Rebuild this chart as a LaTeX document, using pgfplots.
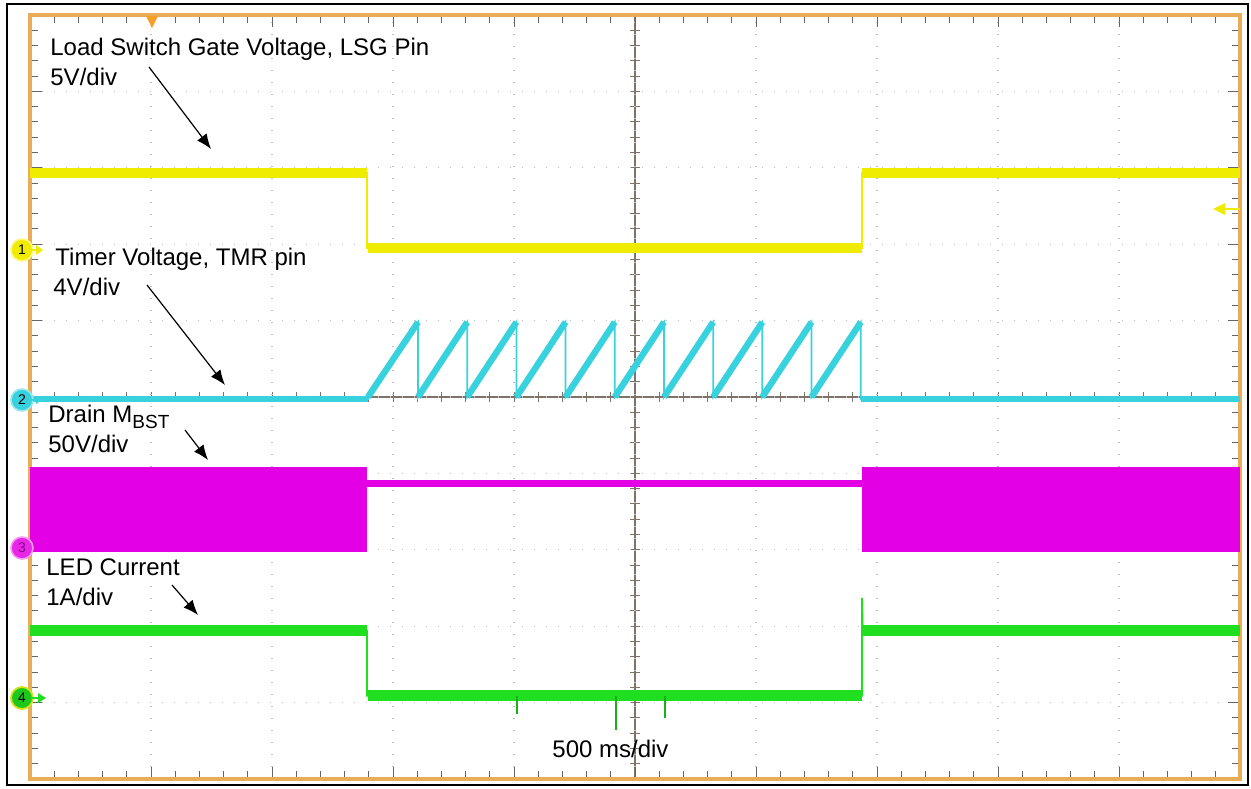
\documentclass[border=0pt]{standalone}
\usepackage{pgfplots}
\pgfplotsset{compat=1.18}
\usepackage{fontspec}
\setmainfont{Liberation Sans}
\usetikzlibrary{arrows.meta}
\definecolor{scopeorange}{RGB}{234,172,88}
\definecolor{trigorange}{RGB}{245,160,40}
\definecolor{chyellow}{RGB}{240,236,0}
\definecolor{chcyan}{RGB}{55,210,222}
\definecolor{chmag}{RGB}{228,0,228}
\definecolor{chgreen}{RGB}{32,222,32}
\definecolor{crossgray}{RGB}{125,115,105}
\begin{document}
\begin{tikzpicture}
\path[use as bounding box] (0,0) rectangle (625.5pt,-394pt);
% centre cross of the graticule (pixel coordinates of the screen)
\begin{scope}[x=0.5pt,y=-0.5pt]
  \draw[crossgray, line width=0.6pt] (30,397) -- (1240,397);
  \draw[crossgray, line width=0.6pt] (635,15) -- (635,779);
  \foreach \i in {1,...,49} \draw[crossgray, line width=0.5pt] (30+24.2*\i,392) -- (30+24.2*\i,402);
  \foreach \i in {1,...,49} \draw[crossgray, line width=0.5pt] (630,15+15.28*\i) -- (640,15+15.28*\i);
\end{scope}
\begin{axis}[
  at={(15pt,-389.5pt)}, anchor=south west,
  scale only axis, width=605pt, height=382pt,
  xmin=0, xmax=10, ymin=-5, ymax=5,
  xtick={0,...,10}, ytick={-5,...,5},
  minor x tick num=4, minor y tick num=4,
  xticklabels={}, yticklabels={},
  xtick pos=both, ytick pos=both,
  tick align=inside, major tick length=6pt, minor tick length=4pt,
  tick style={black!60, line width=0.5pt},
  axis line style={scopeorange, line width=2pt},
  grid=major,
  major grid style={black!25, line width=0.6pt, dash pattern=on 0.6pt off 5.4pt},
  unbounded coords=jump,
]
% ---- Channel 3 : drain of M_BST (switching band / idle level)
\addplot[draw=none, fill=chmag] coordinates {(0,-0.92) (2.785,-0.92) (2.785,-2.03) (0,-2.03)} -- cycle;
\addplot[draw=none, fill=chmag] coordinates {(6.876,-0.92) (10,-0.92) (10,-2.03) (6.876,-2.03)} -- cycle;
\addplot[chmag, line width=3.2pt] coordinates {(2.785,-1.13) (6.876,-1.13)};
% ---- Channel 1 : LSG gate voltage
\addplot[chyellow, line width=0.9pt] coordinates {(0,2.93) (2.785,2.93) (2.785,1.95) (6.876,1.95) (6.876,2.93) (10,2.93)};
\addplot[chyellow, line width=5.2pt] coordinates {(0,2.93) (2.785,2.93) (2.785,nan) (2.79,1.95) (6.872,1.95) (6.872,nan) (6.88,2.93) (10,2.93)};
% ---- Channel 2 : timer voltage (sawtooth)
\addplot[chcyan, line width=0.9pt] coordinates {(0,-0.03) (2.793,-0.03) (2.793,0) (3.207,0.98) (3.207,0) (3.613,0.98) (3.613,0) (4.020,0.98) (4.020,0) (4.426,0.98) (4.426,0) (4.833,0.98) (4.833,0) (5.240,0.98) (5.240,0) (5.646,0.98) (5.646,0) (6.052,0.98) (6.052,0) (6.459,0.98) (6.459,0) (6.866,0.98) (6.866,-0.03) (10,-0.03)};
\addplot[chcyan, line width=2.8pt] coordinates {(0,-0.03) (2.793,-0.03) (2.793,nan) (6.87,-0.03) (10,-0.03)};
\addplot[chcyan, line width=3.2pt] coordinates {(2.793,0) (3.207,0.98) (3.207,nan) (3.207,0) (3.613,0.98) (3.613,nan) (3.613,0) (4.020,0.98) (4.020,nan) (4.020,0) (4.426,0.98) (4.426,nan) (4.426,0) (4.833,0.98) (4.833,nan) (4.833,0) (5.240,0.98) (5.240,nan) (5.240,0) (5.646,0.98) (5.646,nan) (5.646,0) (6.052,0.98) (6.052,nan) (6.052,0) (6.459,0.98) (6.459,nan) (6.459,0) (6.866,0.98)};
% ---- Channel 4 : LED current
\addplot[chgreen, line width=0.9pt] coordinates {(0,-3.06) (2.785,-3.06) (2.785,-3.91) (6.876,-3.91) (6.876,-2.63) (6.882,-3.06) (10,-3.06)};
\addplot[chgreen, line width=5.5pt] coordinates {(0,-3.06) (2.785,-3.06) (2.785,nan) (2.79,-3.91) (6.872,-3.91) (6.872,nan) (6.88,-3.06) (10,-3.06)};
\addplot[chgreen!80!black, line width=0.8pt] coordinates {(4.025,-3.91) (4.025,-4.15) (4.025,nan) (4.843,-3.91) (4.843,-4.36) (4.843,nan) (5.248,-3.91) (5.248,-4.20)};
\end{axis}
% ---- annotations, markers and frame (pixel coordinates of the screen)
\begin{scope}[x=0.5pt,y=-0.5pt, every node/.style={inner sep=0pt, font=\fontsize{12}{14}\selectfont}]
  \draw[black, line width=1.2pt] (7,4) rectangle (1248,785);
  % trigger position marker
  \fill[trigorange] (146,16) -- (158,16) -- (152,28) -- cycle;
  % trigger level arrow (right side)
  \draw[chyellow, line width=1pt] (1224,209) -- (1240,209);
  \fill[chyellow] (1213,209) -- (1225,203) -- (1225,215) -- cycle;
  % channel markers
  \node[circle, fill=chyellow, draw=yellow!50!white, line width=0.8pt, minimum size=11pt, font=\fontsize{7}{8}\selectfont] at (22,250) {1};
  \fill[chyellow] (31,250) ++(0,-1) rectangle ++(6,2); \fill[chyellow] (36,245) -- (43,250) -- (36,255) -- cycle;
  \node[circle, fill=chcyan, draw=chcyan!50!white, line width=0.8pt, minimum size=11pt, font=\fontsize{7}{8}\selectfont] at (22,400) {2};
  \fill[chcyan] (31,400) ++(0,-1) rectangle ++(6,2); \fill[chcyan] (36,396) -- (42,400) -- (36,404) -- cycle;
  \node[circle, fill=chmag!85!white, draw=chmag!40!white, line width=0.8pt, minimum size=11pt, text=chmag!60!black, font=\fontsize{7}{8}\selectfont] at (22,548) {3};
  \node[circle, fill=chgreen!90!black, draw=yellow!80!chgreen, line width=0.9pt, minimum size=11pt, font=\fontsize{7}{8}\selectfont] at (22,698) {4};
  \fill[chgreen] (31,698) ++(0,-1) rectangle ++(8,2); \fill[chgreen] (38,693) -- (46,698) -- (38,703) -- cycle;
  % labels
  \node[anchor=base west] at (50,55) {Load Switch Gate Voltage, LSG Pin};
  \node[anchor=base west] at (50,85) {5V/div};
  \node[anchor=base west] at (55,265) {Timer Voltage, TMR pin};
  \node[anchor=base west] at (53,295) {4V/div};
  \node[anchor=base west] at (48,422) {Drain M\raisebox{-3pt}{\fontsize{9.5}{10}\selectfont BST}};
  \node[anchor=base west] at (48,452) {50V/div};
  \node[anchor=base west] at (46,575) {LED Current};
  \node[anchor=base west] at (46,605) {1A/div};
  \node[anchor=base west] at (552,757) {500 ms/div};
  % arrows
  \begin{scope}[line width=0.6pt, -{Latex[length=7.5pt,width=6pt]}]
    \draw (149,67) -- (211,149);
    \draw (147,285) -- (225,385);
    \draw (185,430) -- (208,460);
    \draw (172,585) -- (198,615);
  \end{scope}
\end{scope}
\end{tikzpicture}
\end{document}
